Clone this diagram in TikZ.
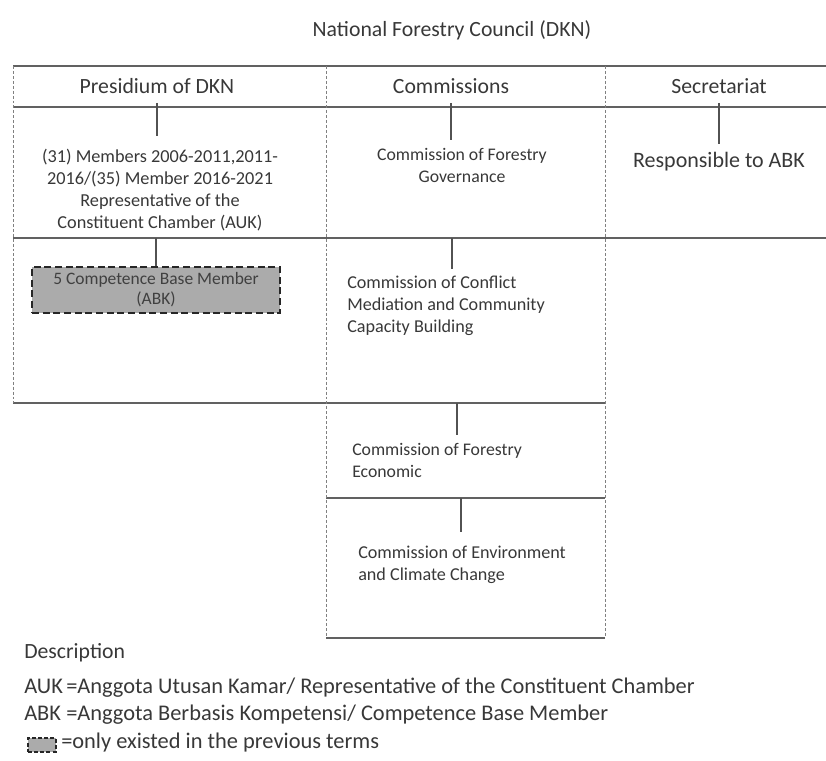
\documentclass[tikz,border=0pt]{standalone}
\usepackage{fontspec}
\setmainfont{Carlito}
\begin{document}
\begin{tikzpicture}[x=0.75pt,y=-0.75pt,
  gridline/.style={draw=black!62,line width=1.1pt},
  vdot/.style={draw=black!50,line width=0.7pt,dash pattern=on 2.2pt off 1.5pt},
  conn/.style={draw=black!68,line width=0.9pt},
  lbl/.style={text=black!78,inner sep=0pt},
  one/.style={text height=0.7em,text depth=0.2em},
  hdr/.style={lbl,one,font=\fontsize{16.3pt}{19pt}\selectfont,inner ysep=5pt},
  small/.style={lbl,font=\fontsize{13.3pt}{16.5pt}\selectfont},
  mid/.style={lbl,font=\fontsize{13.6pt}{16.7pt}\selectfont},
  desc/.style={lbl,one,anchor=west,font=\fontsize{16.3pt}{19pt}\selectfont},
  descline/.style={desc,font=\fontsize{16.8pt}{20pt}\selectfont},
  oldbox/.style={draw=black!85,fill=black!33,line width=2pt,dash pattern=on 5.2pt off 2.8pt},
]
\useasboundingbox (0,0) rectangle (826,761);

% table lines
\draw[gridline] (13,66) -- (826,66);
\draw[gridline] (13,107) -- (826,107);
\draw[gridline] (13,238) -- (826,238);
\draw[gridline] (13,403) -- (605,403);
\draw[gridline] (326,498) -- (605,498);
\draw[gridline] (326,638) -- (605,638);
\draw[vdot] (13,66) -- (13,403);
\draw[vdot] (326,66) -- (326,638);
\draw[vdot] (605,66) -- (605,638);

% title and headers
\node[lbl,one,font=\fontsize{16.3pt}{19pt}\selectfont] (title) at (452,33) {National Forestry Council (DKN)};
\node[hdr] (hPres) at (157,90) {Presidium of DKN};
\node[hdr] (hComm) at (451,90) {Commissions};
\node[hdr] (hSec) at (719,90) {Secretariat};

% presidium column
\node[lbl,align=center,inner ysep=9.5pt,font=\fontsize{13.7pt}{16.5pt}\selectfont] (auk) at (160,190)
  {(31) Members 2006-2011,2011-\\2016/(35) Member 2016-2021\\Representative of the\\Constituent Chamber (AUK)};
\node[oldbox,minimum width=186pt,minimum height=34.5pt,align=center,text=black!75,
  inner sep=0pt,font=\fontsize{13.1pt}{15pt}\selectfont] (abk) at (156,290)
  {5 Competence Base Member\\(ABK)};

% commissions column
\node[small,align=center,inner ysep=5.7pt] (cGov) at (462,165) {Commission of Forestry\\Governance};
\node[mid,align=left,anchor=west,inner ysep=5pt] (cConf) at (347,306) {Commission of Conflict\\Mediation and Community\\Capacity Building};
\node[small,align=left,anchor=west,inner ysep=5.7pt] (cEco) at (352,460) {Commission of Forestry\\Economic};
\node[mid,align=left,anchor=west,inner ysep=10pt] (cEnv) at (358,564.5) {Commission of Environment\\and Climate Change};

% secretariat column
\node[lbl,one,inner ysep=10.5pt,font=\fontsize{16.5pt}{19pt}\selectfont] (sec) at (719,164) {Responsible to ABK};

% row-line coordinates for connectors
\coordinate (rP) at (156,238);
\coordinate (rC2) at (452,238);
\coordinate (rC3) at (457,403);
\coordinate (rC4) at (461,498);

% connectors
\draw[conn] (hPres.south) -- (hPres.south |- auk.north);
\draw[conn] (rP) -- (rP |- abk.north);
\draw[conn] (hComm.south) -- (hComm.south |- cGov.north);
\draw[conn] (rC2) -- (rC2 |- cConf.north);
\draw[conn] (rC3) -- (rC3 |- cEco.north);
\draw[conn] (rC4) -- (rC4 |- cEnv.north);
\draw[conn] (hSec.south) -- (hSec.south |- sec.north);

% description
\node[desc] (dTitle) at (24,655) {Description};
\node[descline] (dAUK) at (24,690) {\makebox[31.5pt][l]{AUK}=Anggota Utusan Kamar/ Representative of the Constituent Chamber};
\node[descline] (dABK) at (24,717) {\makebox[31.5pt][l]{ABK}=Anggota Berbasis Kompetensi/ Competence Base Member};
\node[draw=black!85,fill=black!33,line width=1.5pt,dash pattern=on 3pt off 1.6pt,
  minimum width=21pt,minimum height=10pt,inner sep=0pt] (dIcon) at (42,745) {};
\node[descline] (dOld) at (61,745) {=only existed in the previous terms};
\end{tikzpicture}
\end{document}
